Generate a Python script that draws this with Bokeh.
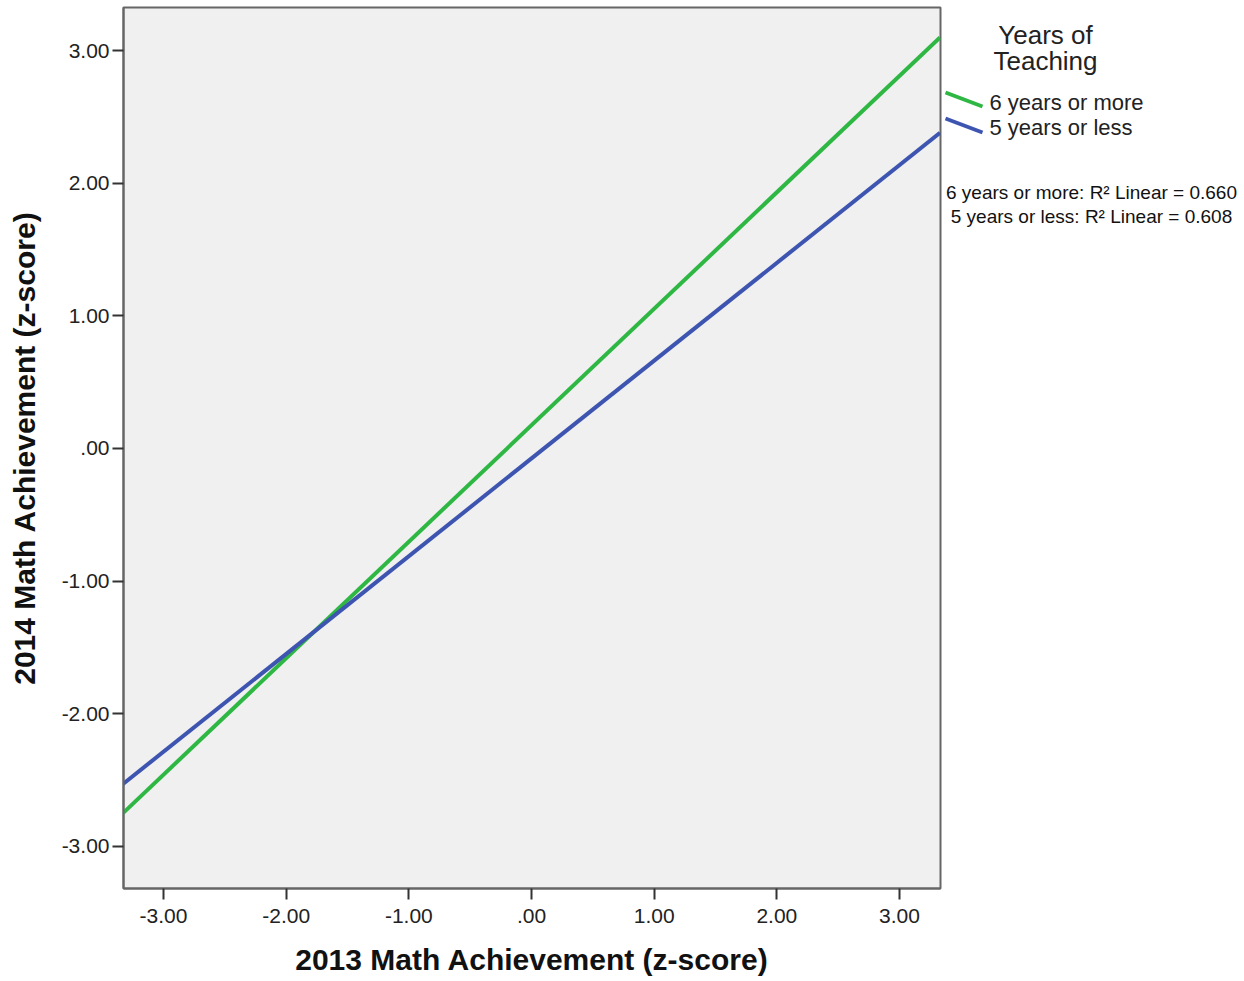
from bokeh.plotting import figure
from bokeh.layouts import row
from bokeh.models import Range1d, FixedTicker
from bokeh.core.properties import value
from bokeh.embed import file_html
from bokeh.resources import INLINE

# Data
series_names = ["6 years or more", "5 years or less"]
series_colors = ["#2fb744", "#3d55b0"]
x_ends = [-3.33, 3.33]
y_more = [-2.75, 3.10]
y_less = [-2.53, 2.38]
r2_values = [0.660, 0.608]
tick_values = [-3, -2, -1, 0, 1, 2, 3]
tick_labels = ["-3.00", "-2.00", "-1.00", ".00", "1.00", "2.00", "3.00"]
legend_title = ["Years of", "Teaching"]

FONT = "Liberation Sans"
H = 978
MAIN_W = 942
TOP, BOTTOM = 7, 888

p = figure(width=MAIN_W, height=H, output_backend="svg", toolbar_location=None,
           x_range=Range1d(-3.326, 3.334), y_range=Range1d(-3.318, 3.325),
           min_border_left=123, min_border_right=2, min_border_top=TOP,
           min_border_bottom=H - BOTTOM)

p.background_fill_color = "#f0f0f0"
p.border_fill_color = "white"
p.outline_line_color = "#666666"
p.outline_line_width = 2
p.grid.visible = False

for ax in (p.xaxis[0], p.yaxis[0]):
    ax.ticker = FixedTicker(ticks=tick_values)
    ax.major_label_overrides = {v: t for v, t in zip(tick_values, tick_labels)}
    ax.major_label_text_font = FONT
    ax.major_label_text_font_size = "21px"
    ax.major_label_text_color = "#222222"
    ax.major_tick_out = 11
    ax.major_tick_in = 0
    ax.minor_tick_out = 0
    ax.minor_tick_in = 0
    ax.major_tick_line_color = "#333333"
    ax.major_tick_line_width = 2
    ax.axis_line_color = "#666666"
    ax.axis_line_width = 2
    ax.axis_label_text_font = FONT
    ax.axis_label_text_font_size = "30px"
    ax.axis_label_text_font_style = "bold"
    ax.axis_label_text_color = "#111111"

p.xaxis.axis_label = "2013 Math Achievement (z-score)"
p.yaxis.axis_label = "2014 Math Achievement (z-score)"
p.xaxis.major_label_standoff = 9
p.yaxis.major_label_standoff = 3
p.xaxis.axis_label_standoff = 17
p.yaxis.axis_label_standoff = 18

p.line(x_ends, y_more, line_color=series_colors[0], line_width=4)
p.line(x_ends, y_less, line_color=series_colors[1], line_width=4)

# Legend panel: its frame is aligned with the main frame (page y 7..888)
LW = 298
q = figure(width=LW, height=H, output_backend="svg", toolbar_location=None,
           x_range=Range1d(MAIN_W, MAIN_W + LW), y_range=Range1d(BOTTOM, TOP),
           x_axis_location=None, y_axis_location=None, min_border=0)
q.grid.visible = False
q.outline_line_color = None
q.background_fill_color = "white"
q.border_fill_color = "white"

q.text(x=[1045] * len(legend_title), y=[34 + 26 * i for i in range(len(legend_title))],
       text=legend_title, text_align="center", text_baseline="middle",
       text_font=value(FONT), text_font_size="26px", text_color="#222222")

seg_y0 = [92, 118]
q.segment(x0=[945] * 2, y0=seg_y0, x1=[982] * 2, y1=[v + 14 for v in seg_y0],
          line_color=series_colors, line_width=4)
q.text(x=[989] * 2, y=[102, 127], text=series_names, text_align="left",
       text_baseline="middle", text_font=value(FONT), text_font_size="22px",
       text_color="#222222")

r2_text = [f"{n}: R\u00b2 Linear = {v:.3f}" for n, v in zip(series_names, r2_values)]
q.text(x=[1091] * 2, y=[192, 216], text=r2_text, text_align="center",
       text_baseline="middle", text_font=value(FONT), text_font_size="19px",
       text_color="#111111")

layout = row(p, q)
open("out.html", "w").write(file_html(layout, INLINE))
